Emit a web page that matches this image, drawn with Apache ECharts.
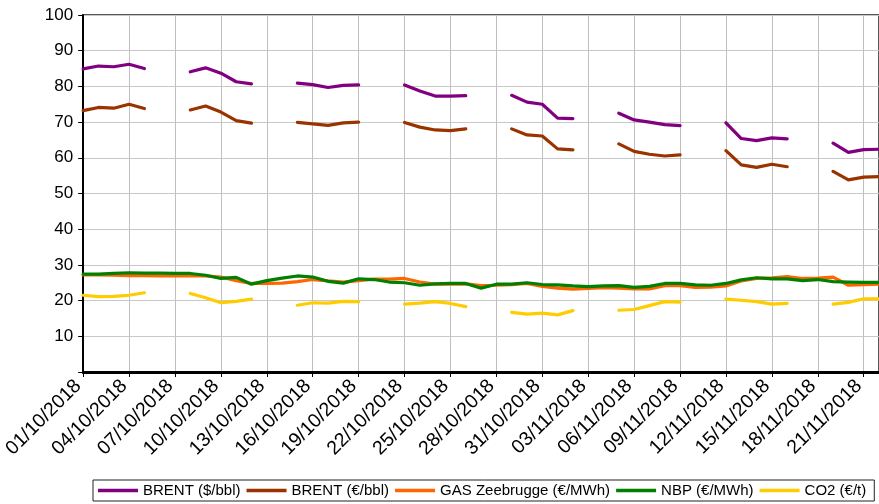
<!DOCTYPE html>
<html>
<head>
<meta charset="utf-8">
<script src="https://cdn.jsdelivr.net/npm/echarts@6/dist/echarts.min.js"></script>
<style>
html,body{margin:0;padding:0;background:#fff;}
#chart{width:879px;height:504px;}
</style>
</head>
<body>
<div id="chart"></div>
<script>
const dates = [
"01/10/2018","02/10/2018","03/10/2018","04/10/2018","05/10/2018","06/10/2018","07/10/2018",
"08/10/2018","09/10/2018","10/10/2018","11/10/2018","12/10/2018","13/10/2018","14/10/2018",
"15/10/2018","16/10/2018","17/10/2018","18/10/2018","19/10/2018","20/10/2018","21/10/2018",
"22/10/2018","23/10/2018","24/10/2018","25/10/2018","26/10/2018","27/10/2018","28/10/2018",
"29/10/2018","30/10/2018","31/10/2018","01/11/2018","02/11/2018","03/11/2018","04/11/2018",
"05/11/2018","06/11/2018","07/11/2018","08/11/2018","09/11/2018","10/11/2018","11/11/2018",
"12/11/2018","13/11/2018","14/11/2018","15/11/2018","16/11/2018","17/11/2018","18/11/2018",
"19/11/2018","20/11/2018","21/11/2018","22/11/2018"
];
const brentUsd = [
84.9,85.7,85.5,86.2,85.0,null,null,
84.1,85.2,83.7,81.3,80.7,null,null,
80.9,80.5,79.7,80.3,80.4,null,null,
80.4,78.7,77.3,77.3,77.4,null,null,
77.5,75.6,75.0,71.1,71.0,null,null,
72.5,70.6,70.0,69.3,69.0,null,null,
69.8,65.4,64.8,65.6,65.3,null,null,
64.1,61.5,62.3,62.4
];
const brentEur = [
73.2,74.1,73.9,75.0,73.8,null,null,
73.4,74.5,72.8,70.4,69.7,null,null,
69.9,69.5,69.1,69.8,70.0,null,null,
69.9,68.6,67.8,67.6,68.1,null,null,
68.1,66.4,66.1,62.5,62.2,null,null,
63.9,61.8,61.0,60.5,60.8,null,null,
62.0,58.0,57.3,58.2,57.5,null,null,
56.2,53.8,54.6,54.7
];
const gasZee = [
27.2,27.2,27.1,27.0,27.0,26.9,26.9,
26.9,26.9,26.6,25.6,24.8,24.8,24.9,
25.3,25.9,25.5,25.2,25.6,26.0,26.0,
26.2,25.2,24.6,24.6,24.7,24.2,24.3,
24.5,24.8,24.0,23.5,23.2,23.4,23.6,
23.5,23.3,23.3,24.2,24.2,23.7,23.8,
24.1,25.5,26.2,26.4,26.7,26.2,26.3,
26.6,24.3,24.5,24.6
];
const nbp = [
27.4,27.4,27.6,27.8,27.7,27.7,27.6,
27.6,27.1,26.2,26.5,24.6,25.6,26.3,
26.9,26.6,25.4,24.9,26.1,25.9,25.2,
25.0,24.3,24.7,24.8,24.8,23.5,24.6,
24.6,25.0,24.5,24.4,24.1,23.9,24.1,
24.2,23.7,24.0,24.8,24.8,24.4,24.3,
24.8,25.8,26.4,26.1,26.1,25.6,25.9,
25.3,25.2,25.1,25.1
];
const co2 = [
21.5,21.1,21.2,21.5,22.2,null,null,
22.0,20.8,19.4,19.8,20.4,null,null,
18.7,19.4,19.3,19.8,19.7,null,null,
19.0,19.3,19.7,19.2,18.3,null,null,
16.7,16.2,16.5,16.0,17.2,null,null,
17.3,17.5,18.6,19.7,19.6,null,null,
20.4,20.1,19.7,19.0,19.2,null,null,
19.0,19.5,20.5,20.5
];
const seriesNames = ["BRENT ($/bbl)","BRENT (€/bbl)","GAS Zeebrugge (€/MWh)","NBP (€/MWh)","CO2 (€/t)"];
const seriesColors = ["#800080","#993300","#FF6600","#008000","#FFCC00"];
const seriesData = [brentUsd, brentEur, gasZee, nbp, co2];

const FONT = "'Liberation Sans', Arial, sans-serif";
const chart = echarts.init(document.getElementById('chart'), null, {renderer:'canvas'});
chart.setOption({
  animation:false,
  backgroundColor:'#ffffff',
  grid:{left:82.7, top:15, right:-4.5, bottom:132, show:true, borderColor:'#222', borderWidth:1.5, containLabel:false},
  legend:{
    left:93, top:480, orient:'horizontal',
    icon:'rect', itemWidth:40, itemHeight:3.5, itemGap:6,
    padding:[3,8,3,5],
    borderColor:'#222', borderWidth:1,
    textStyle:{fontFamily:FONT, fontSize:15, color:'#000'},
    data:seriesNames
  },
  xAxis:{
    type:'category', data:dates, boundaryGap:false,
    axisLine:{show:true, lineStyle:{color:'#000', width:3}},
    axisTick:{show:true, interval:2, length:5, lineStyle:{color:'#000', width:1}},
    axisLabel:{interval:2, rotate:45, fontFamily:FONT, fontSize:19.5, color:'#000', margin:6, padding:[0,7,0,0]},
    splitLine:{show:true, interval:2, lineStyle:{color:'#c0c0c0', width:1}}
  },
  yAxis:{
    type:'value', min:0, max:100, interval:10,
    axisLine:{show:true, lineStyle:{color:'#000', width:2}},
    axisTick:{show:true, length:5, lineStyle:{color:'#000', width:1}},
    axisLabel:{fontFamily:FONT, fontSize:17, color:'#000', margin:10,
      formatter:function(v){return v===0?'':String(v);}},
    splitLine:{show:true, lineStyle:{color:'#c8c8c8', width:1}}
  },
  series: seriesNames.map(function(n,i){
    return {
      name:n, type:'line', data:seriesData[i], connectNulls:false,
      symbol:'none', showSymbol:false,
      lineStyle:{color:seriesColors[i], width:3.2, join:'round', cap:'round'},
      itemStyle:{color:seriesColors[i]},
      z:2+i
    };
  })
});
</script>
</body>
</html>
